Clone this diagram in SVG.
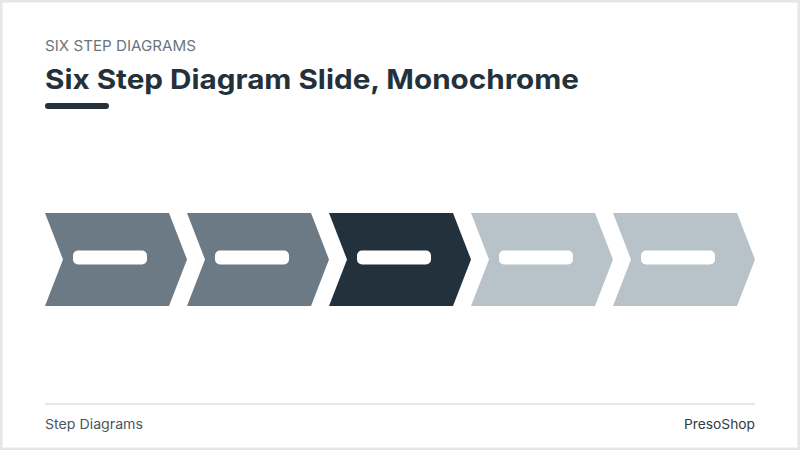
<svg xmlns="http://www.w3.org/2000/svg" width="800" height="450" viewBox="0 0 800 450">
  <style>
    .sub { font-family: Inter, "Open Sans", "Liberation Sans", sans-serif; font-size: 14.5px; fill: #6b757d; }
    .title { font-family: Inter, "Open Sans", "Liberation Sans", sans-serif; font-size: 27px; font-weight: 700; fill: #24313a; }
    .foot { font-family: Inter, "Open Sans", "Liberation Sans", sans-serif; font-size: 13.5px; fill: #4a555d; }
    .pill { fill: #ffffff; }
    .mid { fill: #6b7a85; }
    .dark { fill: #22313b; }
    .light { fill: #b8c3c9; }
  </style>
  <defs>
    <path id="chev" d="M0,213 H124 L142,259.5 L124,306 H0 L18,259.5 Z"/>
  </defs>
  <rect x="0" y="0" width="800" height="450" fill="#ffffff"/>
  <rect x="1" y="1" width="798" height="448" fill="none" stroke="#e4e7ea" stroke-width="3"/>

  <text class="sub" x="45" y="51" textLength="151" lengthAdjust="spacingAndGlyphs">SIX STEP DIAGRAMS</text>
  <text class="title" x="45" y="89" textLength="534" lengthAdjust="spacingAndGlyphs">Six Step Diagram Slide, Monochrome</text>
  <rect x="45" y="103" width="64" height="6" rx="3" fill="#24313a"/>

  <g id="step1">
    <use href="#chev" x="45" class="mid"/>
    <rect class="pill" x="73" y="250.5" width="74" height="14" rx="5"/>
  </g>
  <g id="step2">
    <use href="#chev" x="187" class="mid"/>
    <rect class="pill" x="215" y="250.5" width="74" height="14" rx="5"/>
  </g>
  <g id="step3">
    <use href="#chev" x="329" class="dark"/>
    <rect class="pill" x="357" y="250.5" width="74" height="14" rx="5"/>
  </g>
  <g id="step4">
    <use href="#chev" x="471" class="light"/>
    <rect class="pill" x="499" y="250.5" width="74" height="14" rx="5"/>
  </g>
  <g id="step5">
    <use href="#chev" x="613" class="light"/>
    <rect class="pill" x="641" y="250.5" width="74" height="14" rx="5"/>
  </g>
  <g id="connectors"></g>

  <line x1="45" y1="404" x2="755" y2="404" stroke="#dde1e4" stroke-width="1.5"/>
  <text class="foot" x="45" y="429" textLength="98" lengthAdjust="spacingAndGlyphs">Step Diagrams</text>
  <text class="foot" x="755" y="429" text-anchor="end" textLength="71" lengthAdjust="spacingAndGlyphs" style="fill:#2f3a42">PresoShop</text>
</svg>
